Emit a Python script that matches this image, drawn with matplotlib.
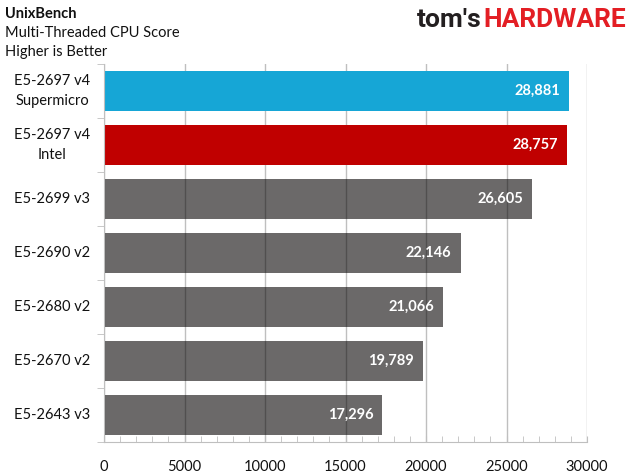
import matplotlib
matplotlib.use("Agg")
import matplotlib.pyplot as plt
from matplotlib.ticker import MultipleLocator, FixedLocator

# values
cpus = ["E5-2697 v4\nSupermicro", "E5-2697 v4\nIntel", "E5-2699 v3", "E5-2690 v2",
        "E5-2680 v2", "E5-2670 v2", "E5-2643 v3"]
scores = [28881, 28757, 26605, 22146, 21066, 19789, 17296]
colors = ["#16a6d6", "#c00000", (0.03, 0.02, 0.02, 0.6), (0.03, 0.02, 0.02, 0.6),
          (0.03, 0.02, 0.02, 0.6), (0.03, 0.02, 0.02, 0.6), (0.03, 0.02, 0.02, 0.6)]

plt.rcParams['font.family'] = ['Lato', 'DejaVu Sans']

fig = plt.figure(figsize=(6.33, 4.74), dpi=100)
ax = fig.add_axes([104 / 633, 1 - 442 / 474, 483 / 633, 378 / 474])

ypos = list(range(len(cpus)))
ax.barh(ypos, scores, height=0.75, color=colors, zorder=1)
ax.set_ylim(len(cpus) - 0.5, -0.5)
ax.set_xlim(0, 30000)

ax.xaxis.grid(True, color="#bfbfbf", linewidth=1, zorder=0)
ax.set_axisbelow(True)
ax.xaxis.set_major_locator(MultipleLocator(5000))
ax.xaxis.set_minor_locator(MultipleLocator(1000))
ax.tick_params(axis='x', which='both', direction='in', length=4, color="#bfbfbf",
               labelsize=10.5, labelcolor="#111111", pad=13)

# category labels centred left of the axis, ticks at the category boundaries
ax.set_yticks(ypos)
ax.set_yticklabels([])
ax.yaxis.set_minor_locator(FixedLocator([i - 0.5 for i in range(len(cpus) + 1)]))
ax.tick_params(axis='y', which='major', length=0)
ax.tick_params(axis='y', which='minor', direction='out', length=5, color="#bfbfbf")
for i, name in enumerate(cpus):
    ax.annotate(name, xy=(0, i), xycoords=('axes fraction', 'data'),
                xytext=(-52, 0), textcoords='offset pixels', ha='center', va='center',
                fontsize=10.5, color="#111111", linespacing=1.6)

for s in ['top', 'right']:
    ax.spines[s].set_visible(False)
for s in ['left', 'bottom']:
    ax.spines[s].set_color("#bfbfbf")

for i, v in enumerate(scores):
    ax.annotate(f"{v:,}", xy=(v, i), xytext=(-9, 0), textcoords='offset pixels',
                ha='right', va='center', color='white', fontsize=10.5, fontweight='bold')

fig.text(5 / 633, 1 - 14 / 474, "UnixBench", fontsize=10.5, fontweight='bold',
         color="#111111", va='center')
fig.text(5 / 633, 1 - 33 / 474, "Multi-Threaded CPU Score", fontsize=10.5,
         color="#111111", va='center')
fig.text(5 / 633, 1 - 52 / 474, "Higher is Better", fontsize=10.5,
         color="#111111", va='center')

# logo
fig.text(482 / 633, 1 - 20 / 474, "tom's", fontsize=19, fontweight='bold',
         color="#231f20", ha='right', va='center', family='Roboto')
fig.text(483 / 633, 1 - 20 / 474, "HARDWARE", fontsize=19, fontweight='bold',
         color="#e31e24", ha='left', va='center', family='Roboto')

fig.savefig("out.png", dpi=100)
